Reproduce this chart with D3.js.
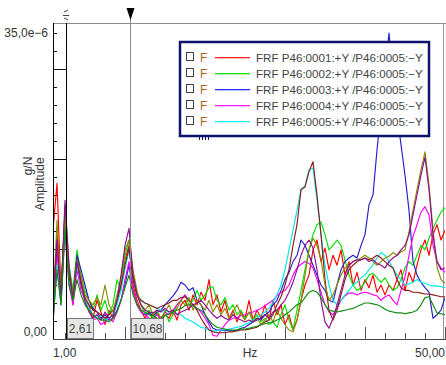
<!DOCTYPE html>
<html>
<head>
<meta charset="utf-8">
<script src="https://cdn.jsdelivr.net/npm/d3@7"></script>
<style>
  body { margin: 0; background: #fff; }
  svg { display: block; font-family: "Liberation Sans", Arial, sans-serif; }
</style>
</head>
<body>
<svg id="chart" width="446" height="365"></svg>
<script>
// frequency axis (Hz)
var freq = [1,1.5,2,2.5,3,3.5,4,4.5,5,5.5,6,6.5,7,7.5,8,8.5,9,9.5,10,10.5,11,11.5,12,12.5,13,13.5,14,14.5,15,15.5,
  16,16.5,17,17.5,18,18.5,19,19.5,20,20.5,21,21.5,22,22.5,23,23.5,24,24.5,25,25.5,26,26.5,27,27.5,28,28.5,29,29.5,30,30.5,
  31,31.5,32,32.5,33,33.5,34,34.5,35,35.5,36,36.5,37,37.5,38,38.5,39,39.5,40,40.5,41,41.5,42,42.5,43,43.5,44,44.5,45,45.5,
  46,46.5,47,47.5,48,48.5,49,49.5,50];

// amplitudes in 1e-6 g/N
var frf0001 = [12.1,17.3,5.4,13.8,7.7,3.8,9.3,6.6,4.3,3.8,2.3,4.3,3.0,1.6,3.2,2.3,4.3,6.0,8.8,10.4,6.0,4.3,3.2,2.3,3.0,2.1,2.9,1.9,2.7,2.3,
  3.2,2.1,3.8,4.3,3.2,4.9,3.8,5.2,4.3,6.6,3.8,4.9,3.0,4.3,2.3,3.2,1.9,3.0,2.3,4.3,2.1,3.2,2.3,3.8,2.1,4.3,2.7,3.8,1.6,2.7,
  1.0,2.1,4.3,6.0,7.1,9.9,11.0,8.6,10.1,7.7,9.3,8.2,9.9,7.1,8.6,6.0,7.4,5.4,6.6,5.7,7.1,5.2,6.0,4.9,6.0,5.4,6.6,7.7,5.4,7.4,
  6.3,8.2,9.9,11.0,9.3,11.6,12.7,11.0,12.1];
var frf0002 = [4.3,9.9,4.3,14.9,8.2,5.4,9.9,7.1,5.4,4.3,3.2,4.9,3.2,4.3,2.7,3.8,6.6,5.4,9.3,11.0,7.1,4.9,3.8,2.7,3.2,2.3,3.0,2.1,3.2,1.9,
  2.7,3.8,4.3,4.9,3.8,4.3,5.4,4.3,4.9,5.7,5.8,4.3,3.8,4.6,3.2,3.8,2.7,3.2,2.3,3.0,2.1,2.7,1.9,2.3,1.6,1.9,1.3,2.7,3.8,2.1,
  1.0,3.2,5.4,7.7,9.9,11.6,12.7,13.0,11.6,9.9,10.4,11.0,10.4,8.8,7.1,6.0,5.4,5.7,6.3,7.1,7.3,6.8,6.3,6.8,6.0,5.4,5.7,6.6,7.9,8.6,
  8.2,9.3,10.4,9.9,11.2,12.3,13.2,14.1,14.6];
var frf0003 = [2.1,7.7,4.3,12.7,7.1,4.9,9.3,7.7,6.0,4.3,3.4,3.0,2.3,2.7,2.1,2.3,3.2,4.3,6.0,8.2,5.4,3.8,3.0,2.7,2.9,2.6,3.0,3.2,3.8,4.3,
  4.8,5.4,6.3,6.0,5.4,5.7,4.3,3.8,2.7,1.9,1.2,1.0,1.0,0.9,1.0,0.9,1.0,1.2,1.3,1.6,1.9,2.1,2.3,2.7,3.0,3.8,4.3,5.4,6.6,7.4,
  8.6,9.3,11.0,10.4,9.3,8.2,7.1,6.0,5.4,4.3,4.1,6.0,7.7,8.6,9.0,9.3,9.0,10.4,11.6,14.9,16.0,21.0,25.4,29.9,34.0,29.3,24.9,21.6,18.2,14.3,
  8.6,7.1,6.3,5.7,5.2,2.3,2.7,3.2,4.6];
var frf0004 = [1.6,9.9,3.8,12.1,6.0,3.8,7.7,5.4,4.3,3.2,2.1,2.3,1.6,1.9,2.3,1.9,3.0,4.3,6.6,8.6,5.4,3.8,3.0,2.7,2.3,2.1,2.7,2.3,3.0,2.7,
  3.2,3.8,4.3,4.9,4.3,3.8,3.4,3.0,2.3,1.6,0.4,0.3,1.0,1.6,2.1,2.3,2.4,2.6,2.7,2.9,3.0,3.2,3.4,3.7,4.0,4.3,4.8,5.2,5.4,6.0,
  7.1,7.9,8.3,8.6,8.4,7.9,6.6,5.2,3.8,3.0,2.7,3.4,4.3,4.8,5.1,5.1,4.9,5.1,5.2,5.1,4.9,4.8,4.3,4.7,4.9,4.3,3.8,5.4,6.9,9.3,
  11.4,12.7,14.1,14.7,13.8,10.4,8.6,7.9,7.4];
var frf0005 = [2.1,8.2,3.8,13.2,6.6,4.3,8.2,6.0,4.3,3.4,2.7,2.3,2.6,2.1,2.3,2.7,3.8,5.4,7.7,9.9,6.6,4.9,4.3,4.0,3.8,3.6,3.4,3.2,3.2,3.0,
  3.0,2.8,2.7,2.3,2.1,1.9,1.6,1.3,1.2,1.0,0.9,0.9,1.0,1.0,1.1,1.2,1.3,1.4,1.6,1.8,2.1,2.3,2.7,3.0,3.4,4.1,4.9,6.0,7.7,9.9,
  12.1,14.3,16.6,17.0,18.8,19.0,15.4,11.6,8.2,6.0,4.3,3.8,4.3,4.9,5.4,6.0,6.3,6.8,7.1,7.7,8.2,9.0,9.6,9.3,8.6,7.9,7.1,6.6,6.0,6.1,
  6.3,6.6,6.3,6.2,6.0,5.9,5.9,5.8,5.7];
var frf0006 = [1.6,11.6,4.3,14.3,7.1,4.6,8.8,6.0,4.6,3.8,3.2,3.0,2.7,2.3,2.7,3.2,4.3,6.0,8.2,10.1,6.6,4.9,4.3,4.0,3.8,3.6,3.4,3.6,3.8,4.0,
  4.3,4.3,4.6,4.7,4.3,3.8,3.2,2.3,1.6,1.0,0.8,0.7,0.7,0.7,0.8,0.8,0.9,1.0,1.0,1.1,1.2,1.3,1.6,1.9,2.1,2.7,3.8,4.7,6.0,7.7,
  10.4,12.7,16.6,16.9,18.6,19.7,16.0,11.6,6.6,3.2,2.1,3.2,4.9,6.6,7.7,8.2,8.6,8.8,9.0,8.8,9.0,9.3,9.0,8.6,8.2,7.9,6.6,5.7,5.4,5.4,
  5.2,5.2,5.1,5.0,5.0,4.9,4.8,4.7,4.7];
var frf0007 = [3.2,13.2,4.9,13.8,7.7,4.9,8.8,7.1,4.9,4.3,3.8,4.6,3.8,6.0,3.8,3.0,4.9,6.6,9.9,11.0,7.7,5.4,3.8,3.2,3.8,2.7,3.2,2.3,3.0,3.8,
  2.7,3.4,4.3,3.8,4.6,3.2,4.3,3.8,3.2,4.3,3.0,3.8,2.7,3.4,2.3,3.0,3.8,2.7,2.1,3.0,1.9,2.3,1.6,2.1,2.7,1.9,3.2,2.3,1.6,1.0,
  0.8,2.1,4.3,7.1,9.9,11.2,10.4,8.8,6.0,4.3,4.9,6.0,7.1,7.9,8.2,8.6,8.8,9.0,9.3,9.0,8.6,8.2,8.6,9.0,9.2,9.6,9.3,9.7,9.9,11.9,
  14.3,16.6,18.8,20.8,17.1,12.1,8.0,6.6,6.2];
var frf0008 = [4.3,11.0,4.6,15.4,8.2,4.3,8.6,6.3,4.1,3.0,2.3,2.7,2.1,3.0,2.3,2.7,4.3,7.1,10.4,12.3,7.1,4.9,3.8,3.2,3.0,2.9,3.2,3.0,3.4,3.0,
  3.2,2.7,3.0,3.2,3.4,3.8,4.0,4.3,3.8,3.2,2.7,2.3,2.6,2.3,2.1,2.7,2.3,2.1,1.9,2.1,1.9,2.3,2.1,2.7,2.3,3.0,3.2,3.8,4.3,5.2,
  6.3,7.7,9.3,10.4,11.0,10.1,7.7,4.3,1.9,1.2,2.3,3.8,5.4,7.1,8.2,8.6,8.8,8.8,9.0,8.6,8.8,8.4,8.2,7.9,8.6,9.0,9.3,9.9,10.4,11.6,
  13.8,16.0,18.2,20.2,16.6,11.6,8.6,7.7,7.9];
var frf0009 = [2.7,7.7,3.8,12.1,6.0,4.3,6.6,4.9,3.8,3.2,2.7,2.3,2.1,2.1,1.9,2.3,3.0,4.3,5.7,7.1,4.9,3.8,3.2,3.0,2.7,2.6,2.3,2.3,2.6,2.8,
  3.0,3.2,3.4,3.7,3.8,3.7,3.4,3.2,2.7,2.1,1.6,1.3,1.2,1.1,1.0,1.0,1.0,1.1,1.1,1.2,1.3,1.4,1.6,1.7,1.8,1.9,2.1,2.3,2.7,3.0,
  3.4,3.8,4.0,4.6,5.2,5.4,5.2,4.6,3.8,3.2,3.1,3.0,3.1,3.2,3.3,3.4,3.6,3.8,4.0,4.0,3.9,3.8,3.6,3.3,3.1,3.0,2.9,2.9,2.8,2.9,
  3.0,3.2,3.8,4.6,4.7,3.8,2.9,2.8,2.7];

var seriesData = [frf0001, frf0002, frf0003, frf0004, frf0005, frf0006, frf0007, frf0008, frf0009];
var seriesColors = ["#ff0000", "#00e000", "#2020c8", "#ff00ff", "#00e8e8", "#8b1a1a", "#8a8a00", "#8b108b", "#108a10"];
var legendNames = ["FRF P46:0001:+Y /P46:0005:\u2212Y", "FRF P46:0002:+Y /P46:0005:\u2212Y",
  "FRF P46:0003:+Y /P46:0005:\u2212Y", "FRF P46:0004:+Y /P46:0005:\u2212Y", "FRF P46:0005:+Y /P46:0005:\u2212Y"];
var legendColors = ["#ff2020", "#10e010", "#2030ff", "#ff20ff", "#20f0f0"];
var cursors = [2.61, 10.68];
var yLabels = ["35,0e\u22126", "0,00"];
var xLabels = ["1,00", "Hz", "50,00"];

var svg = d3.select("#chart");
var x = d3.scaleLinear().domain([1, 50]).range([53, 445]);
var y = d3.scaleLinear().domain([0, 35]).range([339, 24]);

svg.append("defs").append("clipPath").attr("id", "plotclip")
  .append("rect").attr("x", 53).attr("y", 14).attr("width", 392).attr("height", 325);

// frame
svg.append("line").attr("x1", 53).attr("x2", 446).attr("y1", 23.5).attr("y2", 23.5).attr("stroke", "#8c8c8c");
svg.append("line").attr("x1", 443.5).attr("x2", 443.5).attr("y1", 23.5).attr("y2", 339).attr("stroke", "#9a9a9a");

// x ticks every 2.5 Hz, longer every 10 Hz
var xt = d3.range(2.5, 50.01, 2.5);
svg.selectAll(".xtick").data(xt).enter().append("line")
  .attr("class", "xtick")
  .attr("x1", d => Math.round(x(d)) + 0.5).attr("x2", d => Math.round(x(d)) + 0.5)
  .attr("y1", 339).attr("y2", d => (d % 10 == 0) ? 327 : 333)
  .attr("stroke", "#555");

// y ticks
var yt = d3.range(2, 35, 2);
svg.selectAll(".ytick").data(yt).enter().append("line")
  .attr("class", "ytick")
  .attr("x1", 53).attr("x2", d => (d % 10 == 0) ? 66 : 57)
  .attr("y1", d => Math.round(y(d)) + 0.5).attr("y2", d => Math.round(y(d)) + 0.5)
  .attr("stroke", "#111");

// series
var line = d3.line().x((d, i) => x(freq[i])).y(d => y(d));
var plot = svg.append("g").attr("clip-path", "url(#plotclip)");
plot.selectAll("path.frf").data(seriesData).enter().append("path")
  .attr("class", "frf")
  .attr("d", d => line(d))
  .attr("fill", "none")
  .attr("stroke", (d, i) => seriesColors[i])
  .attr("stroke-width", 1.15)
  .attr("stroke-linejoin", "round");

// axes lines
svg.append("line").attr("x1", 53.5).attr("x2", 53.5).attr("y1", 23).attr("y2", 339.5).attr("stroke", "#000");
svg.append("line").attr("x1", 53).attr("x2", 446).attr("y1", 339.5).attr("y2", 339.5).attr("stroke", "#444");

// cursors
svg.append("line").attr("x1", Math.round(x(cursors[0])) + 0.5).attr("x2", Math.round(x(cursors[0])) + 0.5)
  .attr("y1", 23).attr("y2", 339).attr("stroke", "#000");
svg.append("path")
  .attr("d", "M64,12 L68,10 M63,15.5 L69,15.5 M64,18 L68,20")
  .attr("stroke", "#444").attr("fill", "none");
var cx2 = Math.round(x(cursors[1])) + 0.5;
svg.append("line").attr("x1", cx2).attr("x2", cx2)
  .attr("y1", 14).attr("y2", 339).attr("stroke", "#8c8c8c");
svg.append("path")
  .attr("d", "M" + (cx2 - 4) + ",8 L" + (cx2 + 4) + ",8 L" + cx2 + ",20 Z")
  .attr("fill", "#000");

// cursor value boxes
var boxes = svg.selectAll(".cbox").data(cursors).enter().append("g").attr("class", "cbox");
boxes.append("rect")
  .attr("x", d => Math.round(x(d)) + 1.5)
  .attr("y", 318.5)
  .attr("width", d => d < 5 ? 26 : 32)
  .attr("height", 20)
  .attr("fill", "#e6e6e6").attr("stroke", "#777");
boxes.append("text")
  .attr("x", d => Math.round(x(d)) + 1.5 + (d < 5 ? 13 : 16))
  .attr("y", 333)
  .attr("text-anchor", "middle")
  .attr("font-size", 12).attr("fill", "#444")
  .text(d => d.toFixed(2).replace(".", ","));

// axis labels
svg.append("text").attr("x", 48).attr("y", 37).attr("text-anchor", "end")
  .attr("font-size", 12).attr("fill", "#333").text(yLabels[0]);
svg.append("text").attr("x", 47).attr("y", 336).attr("text-anchor", "end")
  .attr("font-size", 12).attr("fill", "#333").text(yLabels[1]);
svg.append("text").attr("x", 53).attr("y", 357).attr("text-anchor", "start")
  .attr("font-size", 12).attr("fill", "#333").text(xLabels[0]);
svg.append("text").attr("x", 250).attr("y", 357).attr("text-anchor", "middle")
  .attr("font-size", 12).attr("fill", "#333").text(xLabels[1]);
svg.append("text").attr("x", 445).attr("y", 357).attr("text-anchor", "end")
  .attr("font-size", 12).attr("fill", "#333").text(xLabels[2]);

svg.append("text").attr("transform", "translate(32,166) rotate(-90)")
  .attr("text-anchor", "middle").attr("font-size", 12).attr("fill", "#333").text("g/N");
svg.append("text").attr("transform", "translate(44,184) rotate(-90)")
  .attr("text-anchor", "middle").attr("font-size", 12).attr("fill", "#333").text("Amplitude");

// legend
var legendItems = legendNames.map((n, i) => ({ name: n, color: legendColors[i], row: i }));
var lg = svg.append("g");
lg.append("rect").attr("x", 180).attr("y", 42).attr("width", 249).attr("height", 94)
  .attr("fill", "#fff").attr("stroke", "#10106e").attr("stroke-width", 2.5);
var rows = lg.selectAll(".lrow").data(legendItems).enter().append("g").attr("class", "lrow")
  .attr("transform", d => "translate(0," + (57 + d.row * 16) + ")");
rows.append("rect").attr("x", 186.5).attr("y", -4.5).attr("width", 7).attr("height", 8)
  .attr("fill", "#fff").attr("stroke", "#444");
rows.append("text").attr("x", 200).attr("y", 4.5).attr("font-size", 12).attr("fill", "#b0651e").text("F");
rows.append("rect").attr("x", 215).attr("y", 0).attr("width", 35).attr("height", 1.3)
  .attr("fill", d => d.color);
rows.append("text").attr("x", 256).attr("y", 4.5).attr("font-size", 11.6).attr("fill", "#444").text(d => d.name);
lg.selectAll(".more").data([0, 1, 2, 3]).enter().append("line")
  .attr("x1", d => 199.5 + d * 3).attr("x2", d => 199.5 + d * 3)
  .attr("y1", 137).attr("y2", 140).attr("stroke", "#10106e");
</script>
</body>
</html>
